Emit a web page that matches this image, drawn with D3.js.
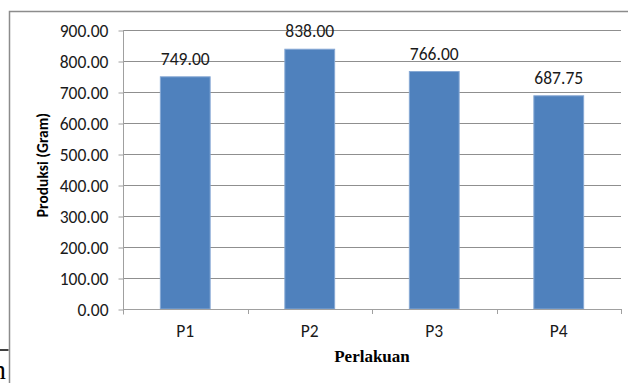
<!DOCTYPE html>
<html>
<head>
<meta charset="utf-8">
<script src="https://cdn.jsdelivr.net/npm/d3@7/dist/d3.min.js"></script>
<style>
  html, body { margin: 0; padding: 0; background: #fff; }
  svg { display: block; }
</style>
</head>
<body>
<svg id="chart" width="628" height="383"></svg>
<script>
// Production per treatment
const categories = ["P1", "P2", "P3", "P4"];
const production = [749.00, 838.00, 766.00, 687.75];
const yTicks = [0, 100, 200, 300, 400, 500, 600, 700, 800, 900];

const svg = d3.select("#chart");
const W = 628, H = 383;
const plot = { left: 123, right: 621, top: 30, bottom: 309 };
const numFont = "Carlito, 'Open Sans', Lato, sans-serif";
const numSize = 17.5;

const x = d3.scaleBand()
  .domain(categories)
  .range([plot.left, plot.right])
  .paddingInner(0.6)
  .paddingOuter(0.3);

const y = d3.scaleLinear()
  .domain([0, 900])
  .range([plot.bottom, plot.top]);

// frame around the chart (left and top edges)
svg.append("path")
  .attr("d", `M9.5,${H} V11.5 H${W}`)
  .attr("fill", "none")
  .attr("stroke", "#8c8c8c")
  .attr("stroke-width", 1.5);

// fragment of surrounding page text at the lower-left edge
svg.append("line")
  .attr("x1", 0).attr("x2", 8.5)
  .attr("y1", 350).attr("y2", 350)
  .attr("stroke", "#000").attr("stroke-width", 1.5);
svg.append("text")
  .attr("x", 6).attr("y", 379)
  .attr("text-anchor", "end")
  .attr("font-family", "'Liberation Serif', 'Times New Roman', serif")
  .attr("font-size", 28)
  .attr("fill", "#000")
  .text("n");

// horizontal gridlines
svg.append("g")
  .selectAll("line")
  .data(yTicks.filter(d => d > 0))
  .join("line")
  .attr("x1", plot.left).attr("x2", plot.right)
  .attr("y1", d => Math.round(y(d)) + 0.5)
  .attr("y2", d => Math.round(y(d)) + 0.5)
  .attr("stroke", "#8f8f8f")
  .attr("stroke-width", 1);

// y axis
const yAxis = d3.axisLeft(y)
  .tickValues(yTicks)
  .tickFormat(d3.format(".2f"))
  .tickSize(5)
  .tickPadding(10);
const gy = svg.append("g")
  .attr("transform", `translate(${plot.left + 0.5},0.5)`)
  .call(yAxis);
gy.select(".domain").attr("stroke", "#a0a0a0").attr("d", `M0,${plot.top - 0.5}V${plot.bottom + 5}`);
gy.selectAll(".tick line").attr("stroke", "#a0a0a0");
gy.selectAll(".tick text")
  .attr("font-family", numFont)
  .attr("font-size", numSize)
  .attr("fill", "#1a1a1a");

// bars
svg.append("g")
  .selectAll("rect")
  .data(categories.map((c, i) => ({ c, v: production[i] })))
  .join("rect")
  .attr("x", d => x(d.c))
  .attr("y", d => y(d.v))
  .attr("width", x.bandwidth())
  .attr("height", d => y(0) - y(d.v))
  .attr("fill", "#4f81bd")
  .attr("stroke", "#86a8d4")
  .attr("stroke-width", 1);

// x axis
const xAxis = d3.axisBottom(x).tickSize(0).tickPadding(15);
const gx = svg.append("g")
  .attr("transform", `translate(0,${plot.bottom + 0.5})`)
  .call(xAxis);
gx.select(".domain").attr("stroke", "#a0a0a0").attr("d", `M${plot.left},0H${plot.right}`);
gx.selectAll(".tick text")
  .attr("font-family", numFont)
  .attr("font-size", numSize)
  .attr("fill", "#1a1a1a");
// category boundary ticks
const bounds = categories.map(c => x(c) - x.step() * x.paddingInner() / 2).concat([plot.right]);
svg.append("g")
  .selectAll("line")
  .data(bounds.slice(1))
  .join("line")
  .attr("x1", d => Math.round(d) + 0.5).attr("x2", d => Math.round(d) + 0.5)
  .attr("y1", plot.bottom).attr("y2", plot.bottom + 5)
  .attr("stroke", "#a0a0a0");

// value labels
svg.append("g")
  .selectAll("text")
  .data(categories.map((c, i) => ({ c, v: production[i] })))
  .join("text")
  .attr("x", d => x(d.c) + x.bandwidth() / 2)
  .attr("y", d => y(d.v) - 12)
  .attr("text-anchor", "middle")
  .attr("font-family", numFont)
  .attr("font-size", numSize)
  .attr("fill", "#1a1a1a")
  .text(d => d3.format(".2f")(d.v));

// axis titles
svg.append("text")
  .attr("transform", `translate(48,165) rotate(-90)`)
  .attr("text-anchor", "middle")
  .attr("font-family", "Carlito, 'Open Sans', Lato, sans-serif")
  .attr("font-weight", "bold")
  .attr("font-size", 15.5)
  .attr("fill", "#000")
  .text("Produksi (Gram)");

svg.append("text")
  .attr("x", (plot.left + plot.right) / 2)
  .attr("y", 362)
  .attr("text-anchor", "middle")
  .attr("font-family", "'Liberation Serif', 'Times New Roman', serif")
  .attr("font-weight", "bold")
  .attr("font-size", 17)
  .attr("fill", "#000")
  .text("Perlakuan");
</script>
</body>
</html>
